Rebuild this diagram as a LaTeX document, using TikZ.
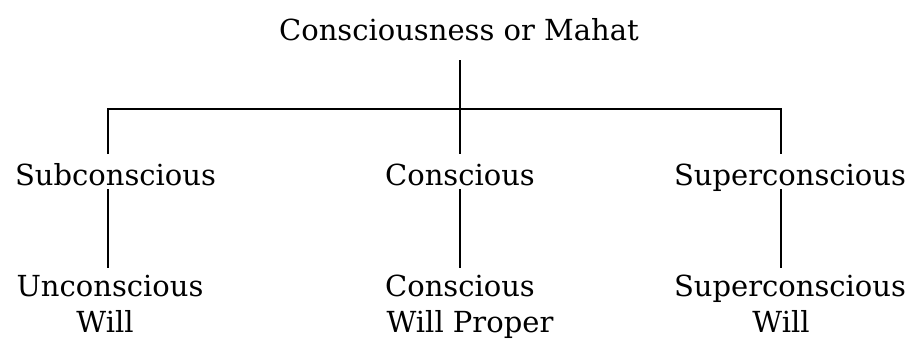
\documentclass[tikz,border=0pt]{standalone}
\usepackage{fontspec}
\setmainfont{DejaVu Serif}
\begin{document}
\begin{tikzpicture}[x=1pt,y=-1pt,
  lbl/.style={font=\fontsize{29}{34}\selectfont, inner sep=0pt, anchor=base},
  conn/.style={line width=2pt}]
\useasboundingbox[fill=white] (0,0) rectangle (910,349);
% texts
\node[lbl] (top) at (459,40) {Consciousness or Mahat};
\node[lbl] (sub) at (115.5,185) {Subconscious};
\node[lbl] (con) at (460,185) {Conscious};
\node[lbl] (sup) at (790,185) {Superconscious};
\node[lbl] (unc) at (110,296) {Unconscious};
\node[lbl] (uncw) at (105,332) {Will};
\node[lbl] (cwp) at (460,296) {Conscious};
\node[lbl] (cwpw) at (470,332) {Will Proper};
\node[lbl] (spw) at (790,296) {Superconscious};
\node[lbl] (spww) at (781,332) {Will};
% junctions
\coordinate (jM) at (460,109);
\coordinate (jL) at (107.5,109);
\coordinate (jR) at (781,109);
% connectors
\draw[conn] ([yshift=-20pt]top.base -| jM) -- (jM);
\draw[conn] ([yshift=31pt]sub.base -| jL) -- (jL) -- (jR) -- ([yshift=31pt]sup.base -| jR);
\draw[conn] (jM) -- ([yshift=31pt]con.base -| jM);
\draw[conn] ([yshift=-4pt]sub.base -| jL) -- ([yshift=28pt]unc.base -| jL);
\draw[conn] ([yshift=-4pt]con.base -| jM) -- ([yshift=28pt]cwp.base -| jM);
\draw[conn] ([yshift=-4pt]sup.base -| jR) -- ([yshift=28pt]spw.base -| jR);
\end{tikzpicture}
\end{document}
